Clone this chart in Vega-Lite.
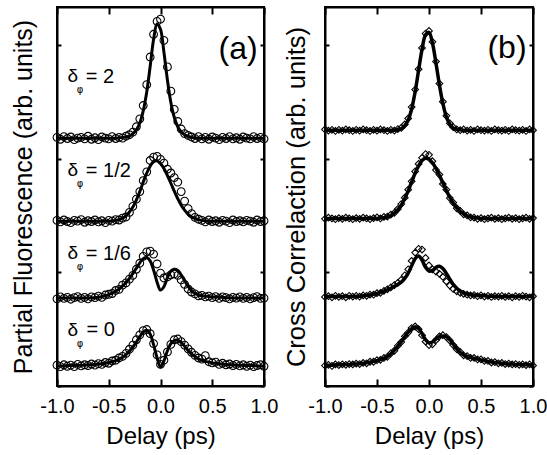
{
"$schema":"https://vega.github.io/schema/vega-lite/v6.json",
"background":"white",
"padding":{"left":10,"top":5,"right":5,"bottom":5},
"autosize":{"type":"pad"},
"config":{"font":"Liberation Sans","view":{"stroke":"black","strokeWidth":2},
"axis":{"domainColor":"black","domainWidth":2,"tickColor":"black","tickWidth":2,"labelColor":"black","titleColor":"black","grid":false,"labelFont":"Liberation Sans","titleFont":"Liberation Sans","titleFontWeight":"normal","labelFlush":false,"labelOverlap":false}},
"datasets":{
"pa":[
{"x":-1.000,"d0":0.55,"d1":2.30,"d2":4.37,"d3":6.56,"f0":0.53,"f1":2.32,"f2":4.35,"f3":6.54},
{"x":-0.967,"d0":0.51,"d1":2.35,"d2":4.33,"d3":6.51,"f0":0.53,"f1":2.32,"f2":4.35,"f3":6.54},
{"x":-0.933,"d0":0.56,"d1":2.31,"d2":4.38,"d3":6.58,"f0":0.53,"f1":2.32,"f2":4.35,"f3":6.54},
{"x":-0.900,"d0":0.52,"d1":2.34,"d2":4.34,"d3":6.53,"f0":0.54,"f1":2.32,"f2":4.35,"f3":6.54},
{"x":-0.867,"d0":0.55,"d1":2.29,"d2":4.31,"d3":6.57,"f0":0.54,"f1":2.32,"f2":4.35,"f3":6.54},
{"x":-0.833,"d0":0.51,"d1":2.33,"d2":4.37,"d3":6.50,"f0":0.54,"f1":2.32,"f2":4.35,"f3":6.54},
{"x":-0.800,"d0":0.57,"d1":2.36,"d2":4.35,"d3":6.54,"f0":0.54,"f1":2.32,"f2":4.35,"f3":6.54},
{"x":-0.767,"d0":0.53,"d1":2.31,"d2":4.39,"d3":6.56,"f0":0.55,"f1":2.32,"f2":4.35,"f3":6.54},
{"x":-0.733,"d0":0.56,"d1":2.34,"d2":4.32,"d3":6.52,"f0":0.55,"f1":2.32,"f2":4.35,"f3":6.54},
{"x":-0.700,"d0":0.54,"d1":2.30,"d2":4.36,"d3":6.59,"f0":0.56,"f1":2.32,"f2":4.35,"f3":6.54},
{"x":-0.667,"d0":0.58,"d1":2.35,"d2":4.34,"d3":6.51,"f0":0.56,"f1":2.33,"f2":4.35,"f3":6.54},
{"x":-0.633,"d0":0.55,"d1":2.33,"d2":4.38,"d3":6.55,"f0":0.57,"f1":2.33,"f2":4.35,"f3":6.54},
{"x":-0.600,"d0":0.59,"d1":2.37,"d2":4.33,"d3":6.50,"f0":0.58,"f1":2.34,"f2":4.35,"f3":6.54},
{"x":-0.567,"d0":0.57,"d1":2.34,"d2":4.36,"d3":6.57,"f0":0.59,"f1":2.36,"f2":4.35,"f3":6.54},
{"x":-0.533,"d0":0.62,"d1":2.40,"d2":4.31,"d3":6.54,"f0":0.60,"f1":2.38,"f2":4.35,"f3":6.54},
{"x":-0.500,"d0":0.60,"d1":2.42,"d2":4.37,"d3":6.52,"f0":0.62,"f1":2.41,"f2":4.35,"f3":6.54},
{"x":-0.467,"d0":0.66,"d1":2.44,"d2":4.35,"d3":6.58,"f0":0.64,"f1":2.45,"f2":4.36,"f3":6.54},
{"x":-0.433,"d0":0.68,"d1":2.52,"d2":4.39,"d3":6.53,"f0":0.67,"f1":2.50,"f2":4.37,"f3":6.54},
{"x":-0.400,"d0":0.74,"d1":2.55,"d2":4.38,"d3":6.56,"f0":0.71,"f1":2.56,"f2":4.39,"f3":6.55},
{"x":-0.367,"d0":0.78,"d1":2.66,"d2":4.43,"d3":6.54,"f0":0.76,"f1":2.64,"f2":4.43,"f3":6.56},
{"x":-0.333,"d0":0.86,"d1":2.72,"d2":4.46,"d3":6.59,"f0":0.83,"f1":2.73,"f2":4.49,"f3":6.57},
{"x":-0.300,"d0":0.97,"d1":2.82,"d2":4.58,"d3":6.63,"f0":0.92,"f1":2.84,"f2":4.59,"f3":6.60},
{"x":-0.267,"d0":1.08,"d1":2.92,"d2":4.74,"d3":6.70,"f0":1.03,"f1":2.97,"f2":4.72,"f3":6.66},
{"x":-0.233,"d0":1.22,"d1":3.08,"d2":4.93,"d3":6.84,"f0":1.16,"f1":3.11,"f2":4.91,"f3":6.76},
{"x":-0.200,"d0":1.35,"d1":3.24,"d2":5.13,"d3":7.05,"f0":1.30,"f1":3.25,"f2":5.13,"f3":6.94},
{"x":-0.167,"d0":1.46,"d1":3.42,"d2":5.42,"d3":7.40,"f0":1.42,"f1":3.36,"f2":5.38,"f3":7.26},
{"x":-0.133,"d0":1.49,"d1":3.54,"d2":5.65,"d3":7.95,"f0":1.47,"f1":3.39,"f2":5.62,"f3":7.76},
{"x":-0.100,"d0":1.38,"d1":3.56,"d2":5.95,"d3":8.68,"f0":1.37,"f1":3.30,"f2":5.80,"f3":8.43},
{"x":-0.067,"d0":1.12,"d1":3.48,"d2":6.04,"d3":9.28,"f0":1.09,"f1":3.06,"f2":5.92,"f3":9.14},
{"x":-0.033,"d0":0.82,"d1":3.22,"d2":6.06,"d3":9.62,"f0":0.74,"f1":2.74,"f2":5.94,"f3":9.56},
{"x":0.000,"d0":0.57,"d1":2.98,"d2":5.98,"d3":9.68,"f0":0.50,"f1":2.53,"f2":5.87,"f3":9.41},
{"x":0.033,"d0":0.68,"d1":2.85,"d2":5.88,"d3":9.12,"f0":0.66,"f1":2.62,"f2":5.74,"f3":8.81},
{"x":0.067,"d0":0.90,"d1":2.88,"d2":5.72,"d3":8.42,"f0":0.93,"f1":2.86,"f2":5.55,"f3":8.07},
{"x":0.100,"d0":1.10,"d1":2.93,"d2":5.62,"d3":7.78,"f0":1.12,"f1":3.03,"f2":5.35,"f3":7.48},
{"x":0.133,"d0":1.22,"d1":2.96,"d2":5.50,"d3":7.30,"f0":1.20,"f1":3.08,"f2":5.14,"f3":7.09},
{"x":0.167,"d0":1.24,"d1":2.92,"d2":5.38,"d3":6.98,"f0":1.21,"f1":3.05,"f2":4.94,"f3":6.84},
{"x":0.200,"d0":1.17,"d1":2.80,"d2":5.13,"d3":6.78,"f0":1.15,"f1":2.93,"f2":4.77,"f3":6.70},
{"x":0.233,"d0":1.08,"d1":2.68,"d2":4.88,"d3":6.66,"f0":1.05,"f1":2.78,"f2":4.64,"f3":6.63},
{"x":0.267,"d0":0.98,"d1":2.56,"d2":4.68,"d3":6.61,"f0":0.94,"f1":2.63,"f2":4.53,"f3":6.59},
{"x":0.300,"d0":0.89,"d1":2.48,"d2":4.55,"d3":6.57,"f0":0.85,"f1":2.51,"f2":4.46,"f3":6.56},
{"x":0.333,"d0":0.81,"d1":2.43,"d2":4.45,"d3":6.53,"f0":0.78,"f1":2.44,"f2":4.42,"f3":6.55},
{"x":0.367,"d0":0.74,"d1":2.38,"d2":4.40,"d3":6.58,"f0":0.72,"f1":2.40,"f2":4.39,"f3":6.54},
{"x":0.400,"d0":0.71,"d1":2.39,"d2":4.37,"d3":6.52,"f0":0.68,"f1":2.38,"f2":4.37,"f3":6.54},
{"x":0.433,"d0":0.80,"d1":2.35,"d2":4.33,"d3":6.56,"f0":0.65,"f1":2.37,"f2":4.36,"f3":6.54},
{"x":0.467,"d0":0.64,"d1":2.37,"d2":4.38,"d3":6.51,"f0":0.63,"f1":2.36,"f2":4.35,"f3":6.54},
{"x":0.500,"d0":0.61,"d1":2.33,"d2":4.34,"d3":6.57,"f0":0.61,"f1":2.35,"f2":4.35,"f3":6.54},
{"x":0.533,"d0":0.63,"d1":2.36,"d2":4.36,"d3":6.54,"f0":0.60,"f1":2.35,"f2":4.35,"f3":6.54},
{"x":0.567,"d0":0.57,"d1":2.31,"d2":4.32,"d3":6.50,"f0":0.59,"f1":2.34,"f2":4.35,"f3":6.54},
{"x":0.600,"d0":0.60,"d1":2.35,"d2":4.37,"d3":6.56,"f0":0.58,"f1":2.34,"f2":4.35,"f3":6.54},
{"x":0.633,"d0":0.56,"d1":2.33,"d2":4.35,"d3":6.53,"f0":0.57,"f1":2.33,"f2":4.35,"f3":6.54},
{"x":0.667,"d0":0.58,"d1":2.30,"d2":4.31,"d3":6.58,"f0":0.56,"f1":2.33,"f2":4.35,"f3":6.54},
{"x":0.700,"d0":0.54,"d1":2.34,"d2":4.38,"d3":6.52,"f0":0.56,"f1":2.32,"f2":4.35,"f3":6.54},
{"x":0.733,"d0":0.57,"d1":2.32,"d2":4.34,"d3":6.55,"f0":0.55,"f1":2.32,"f2":4.35,"f3":6.54},
{"x":0.767,"d0":0.53,"d1":2.35,"d2":4.36,"d3":6.51,"f0":0.55,"f1":2.32,"f2":4.35,"f3":6.54},
{"x":0.800,"d0":0.56,"d1":2.31,"d2":4.33,"d3":6.57,"f0":0.54,"f1":2.32,"f2":4.35,"f3":6.54},
{"x":0.833,"d0":0.52,"d1":2.34,"d2":4.37,"d3":6.54,"f0":0.54,"f1":2.32,"f2":4.35,"f3":6.54},
{"x":0.867,"d0":0.55,"d1":2.30,"d2":4.35,"d3":6.52,"f0":0.54,"f1":2.32,"f2":4.35,"f3":6.54},
{"x":0.900,"d0":0.51,"d1":2.33,"d2":4.32,"d3":6.58,"f0":0.54,"f1":2.32,"f2":4.35,"f3":6.54},
{"x":0.933,"d0":0.54,"d1":2.36,"d2":4.38,"d3":6.53,"f0":0.53,"f1":2.32,"f2":4.35,"f3":6.54},
{"x":0.967,"d0":0.56,"d1":2.31,"d2":4.34,"d3":6.56,"f0":0.53,"f1":2.32,"f2":4.35,"f3":6.54},
{"x":1.000,"d0":0.52,"d1":2.32,"d2":4.36,"d3":6.52,"f0":0.53,"f1":2.32,"f2":4.35,"f3":6.54}
],
"pb":[
{"x":-1.000,"d0":0.54,"d1":2.35,"d2":4.41,"d3":6.77,"f0":0.55,"f1":2.36,"f2":4.42,"f3":6.75},
{"x":-0.967,"d0":0.56,"d1":2.37,"d2":4.44,"d3":6.74,"f0":0.55,"f1":2.36,"f2":4.42,"f3":6.75},
{"x":-0.933,"d0":0.53,"d1":2.34,"d2":4.42,"d3":6.76,"f0":0.55,"f1":2.36,"f2":4.42,"f3":6.75},
{"x":-0.900,"d0":0.57,"d1":2.38,"d2":4.40,"d3":6.73,"f0":0.56,"f1":2.36,"f2":4.42,"f3":6.75},
{"x":-0.867,"d0":0.55,"d1":2.35,"d2":4.43,"d3":6.76,"f0":0.56,"f1":2.36,"f2":4.42,"f3":6.75},
{"x":-0.833,"d0":0.57,"d1":2.37,"d2":4.41,"d3":6.74,"f0":0.56,"f1":2.36,"f2":4.42,"f3":6.75},
{"x":-0.800,"d0":0.56,"d1":2.34,"d2":4.44,"d3":6.77,"f0":0.57,"f1":2.36,"f2":4.42,"f3":6.75},
{"x":-0.767,"d0":0.58,"d1":2.38,"d2":4.42,"d3":6.75,"f0":0.57,"f1":2.36,"f2":4.42,"f3":6.75},
{"x":-0.733,"d0":0.57,"d1":2.36,"d2":4.40,"d3":6.73,"f0":0.58,"f1":2.36,"f2":4.42,"f3":6.75},
{"x":-0.700,"d0":0.59,"d1":2.38,"d2":4.43,"d3":6.76,"f0":0.58,"f1":2.37,"f2":4.42,"f3":6.75},
{"x":-0.667,"d0":0.58,"d1":2.36,"d2":4.41,"d3":6.74,"f0":0.59,"f1":2.37,"f2":4.42,"f3":6.75},
{"x":-0.633,"d0":0.61,"d1":2.39,"d2":4.44,"d3":6.77,"f0":0.60,"f1":2.38,"f2":4.42,"f3":6.75},
{"x":-0.600,"d0":0.60,"d1":2.38,"d2":4.42,"d3":6.75,"f0":0.61,"f1":2.39,"f2":4.42,"f3":6.75},
{"x":-0.567,"d0":0.64,"d1":2.41,"d2":4.40,"d3":6.73,"f0":0.63,"f1":2.40,"f2":4.42,"f3":6.75},
{"x":-0.533,"d0":0.64,"d1":2.41,"d2":4.43,"d3":6.76,"f0":0.65,"f1":2.42,"f2":4.42,"f3":6.75},
{"x":-0.500,"d0":0.68,"d1":2.45,"d2":4.45,"d3":6.74,"f0":0.67,"f1":2.44,"f2":4.42,"f3":6.75},
{"x":-0.467,"d0":0.69,"d1":2.46,"d2":4.42,"d3":6.77,"f0":0.70,"f1":2.47,"f2":4.43,"f3":6.75},
{"x":-0.433,"d0":0.74,"d1":2.51,"d2":4.46,"d3":6.75,"f0":0.73,"f1":2.50,"f2":4.44,"f3":6.75},
{"x":-0.400,"d0":0.77,"d1":2.55,"d2":4.47,"d3":6.73,"f0":0.78,"f1":2.54,"f2":4.46,"f3":6.75},
{"x":-0.367,"d0":0.86,"d1":2.60,"d2":4.52,"d3":6.76,"f0":0.85,"f1":2.58,"f2":4.50,"f3":6.75},
{"x":-0.333,"d0":0.93,"d1":2.66,"d2":4.57,"d3":6.74,"f0":0.94,"f1":2.63,"f2":4.56,"f3":6.75},
{"x":-0.300,"d0":1.06,"d1":2.72,"d2":4.67,"d3":6.78,"f0":1.05,"f1":2.68,"f2":4.65,"f3":6.76},
{"x":-0.267,"d0":1.16,"d1":2.80,"d2":4.80,"d3":6.81,"f0":1.17,"f1":2.74,"f2":4.77,"f3":6.79},
{"x":-0.233,"d0":1.31,"d1":2.92,"d2":4.97,"d3":6.90,"f0":1.30,"f1":2.84,"f2":4.95,"f3":6.87},
{"x":-0.200,"d0":1.41,"d1":3.08,"d2":5.18,"d3":7.06,"f0":1.42,"f1":2.98,"f2":5.15,"f3":7.02},
{"x":-0.167,"d0":1.53,"d1":3.30,"d2":5.40,"d3":7.36,"f0":1.51,"f1":3.17,"f2":5.38,"f3":7.31},
{"x":-0.133,"d0":1.57,"d1":3.52,"d2":5.66,"d3":7.82,"f0":1.56,"f1":3.36,"f2":5.62,"f3":7.77},
{"x":-0.100,"d0":1.50,"d1":3.62,"d2":5.86,"d3":8.36,"f0":1.52,"f1":3.43,"f2":5.81,"f3":8.33},
{"x":-0.067,"d0":1.34,"d1":3.60,"d2":6.02,"d3":8.92,"f0":1.38,"f1":3.32,"f2":5.95,"f3":8.88},
{"x":-0.033,"d0":1.17,"d1":3.38,"d2":6.12,"d3":9.30,"f0":1.22,"f1":3.13,"f2":6.01,"f3":9.27},
{"x":0.000,"d0":1.08,"d1":3.18,"d2":6.10,"d3":9.37,"f0":1.14,"f1":3.03,"f2":5.98,"f3":9.33},
{"x":0.033,"d0":1.10,"d1":3.08,"d2":5.93,"d3":9.08,"f0":1.16,"f1":3.05,"f2":5.89,"f3":9.05},
{"x":0.067,"d0":1.21,"d1":3.02,"d2":5.70,"d3":8.56,"f0":1.24,"f1":3.13,"f2":5.74,"f3":8.52},
{"x":0.100,"d0":1.31,"d1":2.96,"d2":5.58,"d3":7.98,"f0":1.30,"f1":3.16,"f2":5.56,"f3":7.95},
{"x":0.133,"d0":1.34,"d1":2.88,"d2":5.33,"d3":7.50,"f0":1.32,"f1":3.10,"f2":5.36,"f3":7.46},
{"x":0.167,"d0":1.29,"d1":2.76,"d2":5.18,"d3":7.13,"f0":1.30,"f1":2.97,"f2":5.16,"f3":7.10},
{"x":0.200,"d0":1.20,"d1":2.65,"d2":4.96,"d3":6.93,"f0":1.22,"f1":2.82,"f2":4.98,"f3":6.91},
{"x":0.233,"d0":1.08,"d1":2.56,"d2":4.84,"d3":6.83,"f0":1.10,"f1":2.68,"f2":4.83,"f3":6.81},
{"x":0.267,"d0":0.97,"d1":2.50,"d2":4.69,"d3":6.77,"f0":0.98,"f1":2.58,"f2":4.70,"f3":6.77},
{"x":0.300,"d0":0.90,"d1":2.46,"d2":4.62,"d3":6.75,"f0":0.89,"f1":2.51,"f2":4.61,"f3":6.76},
{"x":0.333,"d0":0.81,"d1":2.43,"d2":4.53,"d3":6.77,"f0":0.82,"f1":2.46,"f2":4.54,"f3":6.75},
{"x":0.367,"d0":0.79,"d1":2.41,"d2":4.50,"d3":6.74,"f0":0.78,"f1":2.43,"f2":4.49,"f3":6.75},
{"x":0.400,"d0":0.74,"d1":2.39,"d2":4.45,"d3":6.76,"f0":0.75,"f1":2.41,"f2":4.46,"f3":6.75},
{"x":0.433,"d0":0.74,"d1":2.40,"d2":4.44,"d3":6.73,"f0":0.73,"f1":2.40,"f2":4.44,"f3":6.75},
{"x":0.467,"d0":0.70,"d1":2.37,"d2":4.41,"d3":6.77,"f0":0.71,"f1":2.39,"f2":4.43,"f3":6.75},
{"x":0.500,"d0":0.70,"d1":2.39,"d2":4.43,"d3":6.75,"f0":0.69,"f1":2.38,"f2":4.42,"f3":6.75},
{"x":0.533,"d0":0.66,"d1":2.36,"d2":4.40,"d3":6.74,"f0":0.67,"f1":2.38,"f2":4.42,"f3":6.75},
{"x":0.567,"d0":0.66,"d1":2.38,"d2":4.42,"d3":6.76,"f0":0.65,"f1":2.37,"f2":4.42,"f3":6.75},
{"x":0.600,"d0":0.62,"d1":2.35,"d2":4.44,"d3":6.73,"f0":0.63,"f1":2.37,"f2":4.42,"f3":6.75},
{"x":0.633,"d0":0.63,"d1":2.37,"d2":4.41,"d3":6.77,"f0":0.62,"f1":2.37,"f2":4.42,"f3":6.75},
{"x":0.667,"d0":0.60,"d1":2.36,"d2":4.43,"d3":6.75,"f0":0.61,"f1":2.36,"f2":4.42,"f3":6.75},
{"x":0.700,"d0":0.61,"d1":2.38,"d2":4.40,"d3":6.74,"f0":0.60,"f1":2.36,"f2":4.42,"f3":6.75},
{"x":0.733,"d0":0.58,"d1":2.35,"d2":4.42,"d3":6.76,"f0":0.59,"f1":2.36,"f2":4.42,"f3":6.75},
{"x":0.767,"d0":0.59,"d1":2.37,"d2":4.44,"d3":6.73,"f0":0.58,"f1":2.36,"f2":4.42,"f3":6.75},
{"x":0.800,"d0":0.57,"d1":2.34,"d2":4.41,"d3":6.77,"f0":0.58,"f1":2.36,"f2":4.42,"f3":6.75},
{"x":0.833,"d0":0.58,"d1":2.37,"d2":4.43,"d3":6.75,"f0":0.57,"f1":2.36,"f2":4.42,"f3":6.75},
{"x":0.867,"d0":0.56,"d1":2.35,"d2":4.40,"d3":6.74,"f0":0.57,"f1":2.36,"f2":4.42,"f3":6.75},
{"x":0.900,"d0":0.57,"d1":2.38,"d2":4.42,"d3":6.76,"f0":0.56,"f1":2.36,"f2":4.42,"f3":6.75},
{"x":0.933,"d0":0.55,"d1":2.36,"d2":4.44,"d3":6.73,"f0":0.56,"f1":2.36,"f2":4.42,"f3":6.75},
{"x":0.967,"d0":0.57,"d1":2.34,"d2":4.41,"d3":6.77,"f0":0.56,"f1":2.36,"f2":4.42,"f3":6.75},
{"x":1.000,"d0":0.54,"d1":2.37,"d2":4.43,"d3":6.75,"f0":0.55,"f1":2.36,"f2":4.42,"f3":6.75}
],
"ann":[
{"p":"a","k":"lab","x":0.75,"y":8.90,"t":"(a)"},
{"p":"b","k":"lab","x":0.75,"y":8.92,"t":"(b)"},
{"p":"a","k":"sym","x":-0.899,"y":8.17,"t":"δ"},
{"p":"a","k":"sub","x":-0.808,"y":7.80,"t":"φ"},
{"p":"a","k":"eq","x":-0.722,"y":8.15,"t":"= 2"},
{"p":"a","k":"sym","x":-0.899,"y":5.69,"t":"δ"},
{"p":"a","k":"sub","x":-0.808,"y":5.32,"t":"φ"},
{"p":"a","k":"eq","x":-0.722,"y":5.67,"t":"= 1/2"},
{"p":"a","k":"sym","x":-0.899,"y":3.50,"t":"δ"},
{"p":"a","k":"sub","x":-0.808,"y":3.14,"t":"φ"},
{"p":"a","k":"eq","x":-0.722,"y":3.48,"t":"= 1/6"},
{"p":"a","k":"sym","x":-0.899,"y":1.49,"t":"δ"},
{"p":"a","k":"sub","x":-0.808,"y":1.12,"t":"φ"},
{"p":"a","k":"eq","x":-0.715,"y":1.47,"t":"= 0"}
]},
"bounds":"flush",
"spacing":61,
"hconcat":[
{"width":207,"height":379,
"resolve":{"axis":{"x":"independent","y":"independent"}},
"layer":[
{"data":{"name":"pa"},"transform":[{"fold":["d0","d1","d2","d3"],"as":["trace","y"]}],
"mark":{"type":"point","shape":"circle","filled":false,"stroke":"black","strokeWidth":1.1,"size":60,"opacity":1},
"encoding":{
"x":{"field":"x","type":"quantitative","scale":{"domain":[-1,1],"nice":false,"zero":false},"axis":{"orient":"bottom","values":[-1,-0.5,0,0.5,1],"labelExpr":"replace(format(datum.value, '.1f'), '\u2212', '-')","tickSize":-7,"labelPadding":17,"labelFontSize":20,"title":"Delay (ps)","titleFontSize":24,"titlePadding":8}},
"y":{"field":"y","type":"quantitative","scale":{"domain":[0,10],"nice":false,"zero":false},"axis":{"orient":"left","values":[0,3,6,9],"labels":false,"tickSize":-4,"title":"Partial Fluorescence (arb. units)","titleFontSize":25,"titlePadding":20}},
"detail":{"field":"trace"}}},
{"data":{"name":"pa"},"transform":[{"fold":["f0","f1","f2","f3"],"as":["trace","y"]}],
"mark":{"type":"line","color":"black","strokeWidth":3,"interpolate":"catmull-rom"},
"encoding":{
"x":{"field":"x","type":"quantitative","axis":{"orient":"top","values":[-1,-0.5,0,0.5,1],"labels":false,"tickSize":-7,"title":null}},
"y":{"field":"y","type":"quantitative","axis":{"orient":"right","values":[0,3,6,9],"labels":false,"tickSize":-4,"title":null}},
"detail":{"field":"trace"}}},
{"data":{"name":"ann"},"transform":[{"filter":"datum.p=='a' && datum.k=='lab'"}],
"mark":{"type":"text","align":"center","baseline":"middle","fontSize":32,"fill":"black"},
"encoding":{"x":{"field":"x","type":"quantitative","axis":null},"y":{"field":"y","type":"quantitative","axis":null},"text":{"field":"t"}}},
{"data":{"name":"ann"},"transform":[{"filter":"datum.k=='sym'"}],
"mark":{"type":"text","align":"left","baseline":"middle","fontSize":19,"fill":"black"},
"encoding":{"x":{"field":"x","type":"quantitative","axis":null},"y":{"field":"y","type":"quantitative","axis":null},"text":{"field":"t"}}},
{"data":{"name":"ann"},"transform":[{"filter":"datum.k=='sub'"}],
"mark":{"type":"text","align":"left","baseline":"middle","fontSize":10,"fill":"black","font":"DejaVu Sans"},
"encoding":{"x":{"field":"x","type":"quantitative","axis":null},"y":{"field":"y","type":"quantitative","axis":null},"text":{"field":"t"}}},
{"data":{"name":"ann"},"transform":[{"filter":"datum.k=='eq'"}],
"mark":{"type":"text","align":"left","baseline":"middle","fontSize":20,"fill":"black"},
"encoding":{"x":{"field":"x","type":"quantitative","axis":null},"y":{"field":"y","type":"quantitative","axis":null},"text":{"field":"t"}}}
]},
{"width":208,"height":379,
"resolve":{"axis":{"x":"independent","y":"independent"}},
"layer":[
{"data":{"name":"pb"},"transform":[{"fold":["d0","d1","d2","d3"],"as":["trace","y"]}],
"mark":{"type":"point","shape":"diamond","filled":false,"stroke":"black","strokeWidth":1.1,"size":45,"opacity":1},
"encoding":{
"x":{"field":"x","type":"quantitative","scale":{"domain":[-1,1],"nice":false,"zero":false},"axis":{"orient":"bottom","values":[-1,-0.5,0,0.5,1],"labelExpr":"replace(format(datum.value, '.1f'), '\u2212', '-')","tickSize":-7,"labelPadding":17,"labelFontSize":20,"title":"Delay (ps)","titleFontSize":24,"titlePadding":8}},
"y":{"field":"y","type":"quantitative","scale":{"domain":[0,10],"nice":false,"zero":false},"axis":{"orient":"left","values":[0,3,6,9],"labels":false,"tickSize":-4,"title":"Cross Correlaction (arb. units)","titleFontSize":25.5,"titlePadding":15}},
"detail":{"field":"trace"}}},
{"data":{"name":"pb"},"transform":[{"fold":["f0","f1","f2","f3"],"as":["trace","y"]}],
"mark":{"type":"line","color":"black","strokeWidth":3.5,"interpolate":"catmull-rom"},
"encoding":{
"x":{"field":"x","type":"quantitative","axis":{"orient":"top","values":[-1,-0.5,0,0.5,1],"labels":false,"tickSize":-7,"title":null}},
"y":{"field":"y","type":"quantitative","axis":{"orient":"right","values":[0,3,6,9],"labels":false,"tickSize":-4,"title":null}},
"detail":{"field":"trace"}}},
{"data":{"name":"ann"},"transform":[{"filter":"datum.p=='b' && datum.k=='lab'"}],
"mark":{"type":"text","align":"center","baseline":"middle","fontSize":32,"fill":"black"},
"encoding":{"x":{"field":"x","type":"quantitative","axis":null},"y":{"field":"y","type":"quantitative","axis":null},"text":{"field":"t"}}}
]}
]
}
